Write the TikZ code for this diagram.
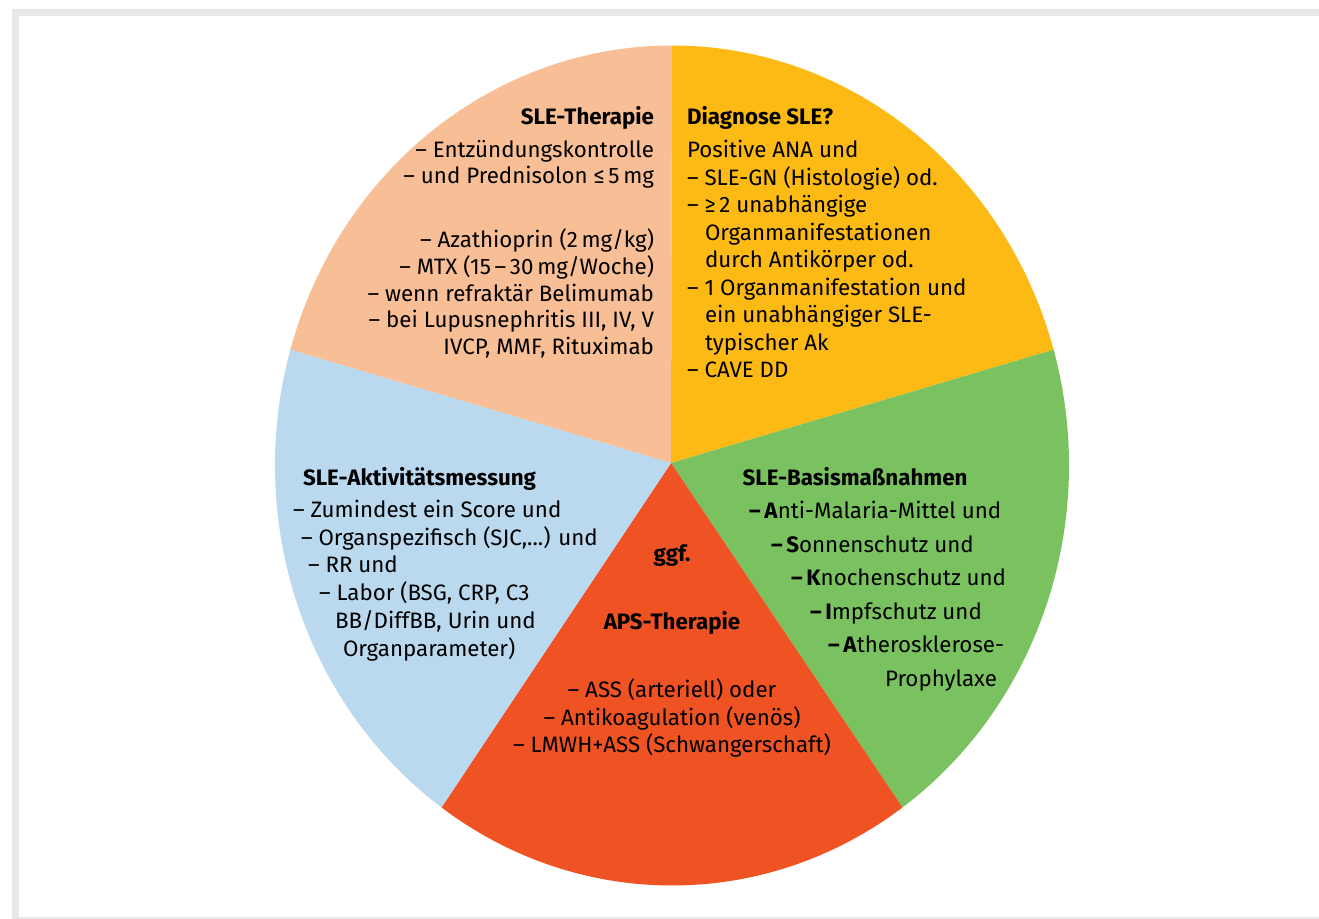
\documentclass[tikz,border=0pt]{standalone}
\usepackage{fontspec}
\setmainfont{Fira Sans}
\usetikzlibrary{calc}
\definecolor{framegray}{RGB}{232,232,232}
\definecolor{peach}{RGB}{248,190,150}
\definecolor{sunny}{RGB}{253,186,20}
\definecolor{leaf}{RGB}{122,193,96}
\definecolor{brick}{RGB}{239,82,35}
\definecolor{sky}{RGB}{186,216,238}
\begin{document}
\begin{tikzpicture}[x=0.02cm,y=-0.02cm,
  txt/.style={inner sep=0pt, outer sep=0pt, font=\fontsize{12.7}{15}\selectfont, text=black},
  rt/.style={txt, anchor=base east},
  lt/.style={txt, anchor=base west},
  ct/.style={txt, anchor=base}]
\useasboundingbox (0,0) rectangle (1319,919);
% frame
\fill[framegray] (12,9) rectangle (1319,919);
\fill[white] (19,16) rectangle (1319,917.3);
% pie
\coordinate (O) at (671,463);
\coordinate (E) at (672,465.5);
\fill[peach] (O) -- ($(E)+(-90:397 and 420)$) arc[start angle=-90,end angle=-164,x radius=397,y radius=420] -- cycle;
\fill[sunny] (O) -- ($(E)+(-16:397 and 420)$) arc[start angle=-16,end angle=-90,x radius=397,y radius=420] -- cycle;
\fill[leaf] (O) -- ($(E)+(54.5:397 and 420)$) arc[start angle=54.5,end angle=-16,x radius=397,y radius=420] -- cycle;
\fill[brick] (O) -- ($(E)+(125.5:397 and 420)$) arc[start angle=125.5,end angle=54.5,x radius=397,y radius=420] -- cycle;
\fill[sky] (O) -- ($(E)+(-164:397 and 420)$) arc[start angle=-164,end angle=-234.5,x radius=397,y radius=420] -- cycle;
% SLE-Therapie
\node[rt] (p0) at (654,125) {\textbf{SLE-Therapie}};
\node[rt] (p1) at (654,157) {– Entzündungskontrolle};
\node[rt] (p2) at (654,183.5) {– und Prednisolon ≤\,5\,mg};
\node[rt] (p3) at (654,247.7) {– Azathioprin (2\,mg/kg)};
\node[rt] (p4) at (654,274.3) {– MTX (15\,–\,30\,mg/Woche)};
\node[rt] (p5) at (654,301) {– wenn refraktär Belimumab};
\node[rt] (p6) at (654,327.7) {– bei Lupusnephritis III, IV, V};
\node[rt] (p7) at (654,354.3) {IVCP, MMF, Rituximab};
% Diagnose
\node[lt] (o0) at (687,125) {\textbf{Diagnose SLE?}};
\node[lt] (o1) at (687,157.3) {Positive ANA und};
\node[lt] (o2) at (687,185) {– SLE-GN (Histologie) od.};
\node[lt] (o3) at (687,212.4) {– ≥\,2 unabhängige};
\node[lt] (o4) at (705,240) {Organmanifestationen};
\node[lt] (o5) at (705,267.5) {durch Antikörper od.};
\node[lt] (o6) at (687,295) {– 1 Organmanifestation und};
\node[lt] (o7) at (705,322.6) {ein unabhängiger SLE-};
\node[lt] (o8) at (705,350) {typischer Ak};
\node[lt] (o9) at (687,377.7) {– CAVE DD};
% Aktivitaet
\node[lt] (b0) at (303,485) {\textbf{SLE-Aktivitätsmessung}};
\node[lt] (b1) at (293,517) {– Zumindest ein Score und};
\node[lt] (b2) at (301,545) {– Organspezifisch (SJC,...) und};
\node[lt] (b3) at (308,572) {– RR und};
\node[lt] (b4) at (319,600) {– Labor (BSG, CRP, C3};
\node[lt] (b5) at (335,628) {BB/DiffBB, Urin und};
\node[lt] (b6) at (343,656) {Organparameter)};
% Basis
\node[ct] (g0) at (855,485) {\textbf{SLE-Basismaßnahmen}};
\node[lt] (g1) at (749,518) {\textbf{–\,A}nti-Malaria-Mittel und};
\node[lt] (g2) at (771,552) {\textbf{–\,S}onnenschutz und};
\node[lt] (g3) at (791,585) {\textbf{–\,K}nochenschutz und};
\node[lt] (g4) at (810,619) {\textbf{–\,I}mpfschutz und};
\node[lt] (g5) at (828,652) {\textbf{–\,A}therosklerose-};
\node[lt] (g6) at (885,686) {Prophylaxe};
% APS
\node[ct] (r0) at (672,561) {\textbf{ggf.}};
\node[ct] (r1) at (672,629) {\textbf{APS-Therapie}};
\node[ct] (r2) at (672,697) {– ASS (arteriell) oder};
\node[ct] (r3) at (672,725) {– Antikoagulation (venös)};
\node[ct] (r4) at (672,752) {– LMWH+ASS (Schwangerschaft)};
\end{tikzpicture}
\end{document}
